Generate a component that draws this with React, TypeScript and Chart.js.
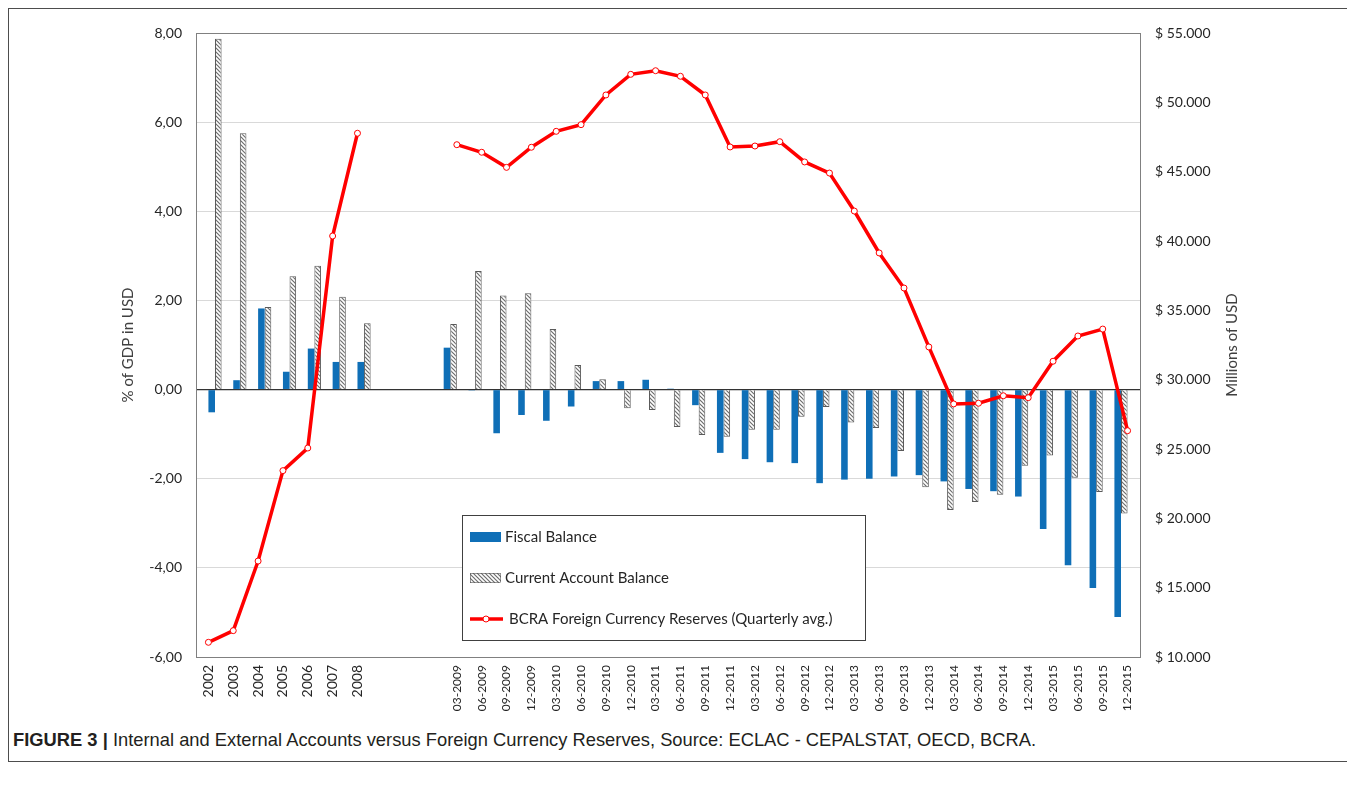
import React, { useEffect, useRef } from 'react';
import { Chart, registerables } from 'chart.js';

Chart.register(...registerables);

const FONT = 'Lato, "Open Sans", sans-serif';

// ---- data ----
const annualYears = ['2002', '2003', '2004', '2005', '2006', '2007', '2008'];
const annualFiscal = [-0.51, 0.21, 1.82, 0.4, 0.92, 0.62, 0.62];
const annualCurrent = [7.87, 5.75, 1.85, 2.54, 2.78, 2.08, 1.49];
const annualReserves = [11060, 11900, 16920, 23440, 25070, 40360, 47770];

const gapLabels = ['', '', ''];

const quarterLabels = [
  '03-2009', '06-2009', '09-2009', '12-2009',
  '03-2010', '06-2010', '09-2010', '12-2010',
  '03-2011', '06-2011', '09-2011', '12-2011',
  '03-2012', '06-2012', '09-2012', '12-2012',
  '03-2013', '06-2013', '09-2013', '12-2013',
  '03-2014', '06-2014', '09-2014', '12-2014',
  '03-2015', '06-2015', '09-2015', '12-2015',
];
const quarterlyFiscal = [
  0.94, -0.02, -0.98, -0.57,
  -0.7, -0.38, 0.19, 0.19,
  0.22, 0.02, -0.35, -1.42,
  -1.56, -1.63, -1.65, -2.1,
  -2.02, -2.0, -1.95, -1.92,
  -2.06, -2.23, -2.28, -2.4,
  -3.13, -3.94, -4.45, -5.1,
];
const quarterlyCurrent = [
  1.47, 2.66, 2.11, 2.16,
  1.36, 0.55, 0.23, -0.42,
  -0.46, -0.84, -1.02, -1.06,
  -0.9, -0.9, -0.61, -0.39,
  -0.74, -0.86, -1.38, -2.19,
  -2.7, -2.52, -2.36, -1.71,
  -1.48, -1.98, -2.3, -2.78,
];
const quarterlyReserves = [
  46945, 46400, 45310, 46760,
  47910, 48390, 50530, 52020,
  52280, 51880, 50530, 46780,
  46850, 47160, 45700, 44900,
  42160, 39140, 36610, 32360,
  28250, 28300, 28840, 28700,
  31330, 33150, 33650, 26320,
];

const leftTicks = { min: -6, max: 8, step: 2 };
const rightTicks = { min: 10000, max: 55000, step: 5000 };

const BLUE = '#0F6FB7';
const RED = '#FF0000';
const HATCH_LINE = '#6e6e6e';
const HATCH_BORDER = '#5a5a5a';

function makeHatch(ctx: CanvasRenderingContext2D): CanvasPattern | string {
  const s = 4;
  const c = document.createElement('canvas');
  c.width = s;
  c.height = s;
  const g = c.getContext('2d');
  if (!g) return '#999';
  g.fillStyle = '#ffffff';
  g.fillRect(0, 0, s, s);
  g.strokeStyle = HATCH_LINE;
  g.lineWidth = 1.2;
  for (const off of [-s, 0, s]) {
    g.beginPath();
    g.moveTo(off - 1, -1);
    g.lineTo(off + s + 1, s + 1);
    g.stroke();
  }
  return ctx.createPattern(c, 'repeat') || '#999';
}

function fmtLeft(v: number) {
  return v.toFixed(2).replace('.', ',');
}
function fmtRight(v: number) {
  const s = Math.round(v).toString().replace(/\B(?=(\d{3})+(?!\d))/g, '.');
  return '$ ' + s;
}

export default function App() {
  const ref = useRef<HTMLCanvasElement>(null);

  useEffect(() => {
    const canvas = ref.current;
    if (!canvas) return;
    const ctx0 = canvas.getContext('2d') as CanvasRenderingContext2D;
    const hatch = makeHatch(ctx0);

    const nA = annualYears.length;
    const nG = gapLabels.length;
    const nQ = quarterLabels.length;
    const nulls = (n: number) => Array(n).fill(null);
    const labels = [...annualYears, ...gapLabels, ...quarterLabels];

    const qFiscal = [...nulls(nA + nG), ...quarterlyFiscal];
    const qCurrent = [...nulls(nA + nG), ...quarterlyCurrent];
    const aFiscal = [...annualFiscal, ...nulls(nG + nQ)];
    const aCurrent = [...annualCurrent, ...nulls(nG + nQ)];
    const reserves = [...annualReserves, ...nulls(nG), ...quarterlyReserves];

    const decor = {
      id: 'decor',
      afterDraw(chart: any) {
        const { ctx, chartArea: a } = chart;
        ctx.save();
        // plot frame
        ctx.strokeStyle = '#808080';
        ctx.lineWidth = 1;
        ctx.strokeRect(Math.round(a.left) + 0.5, Math.round(a.top) + 0.5, Math.round(a.right - a.left), Math.round(a.bottom - a.top));
        // axis titles
        const cy = (a.top + a.bottom) / 2;
        ctx.fillStyle = '#404040';
        ctx.font = `15px ${FONT}`;
        ctx.textAlign = 'center';
        ctx.textBaseline = 'middle';
        ctx.save();
        ctx.translate(119, cy);
        ctx.rotate(-Math.PI / 2);
        ctx.fillText('% of GDP in USD', 0, 0);
        ctx.restore();
        ctx.save();
        ctx.translate(1223, cy);
        ctx.rotate(-Math.PI / 2);
        ctx.fillText('Millions of USD', 0, 0);
        ctx.restore();

        // legend
        const bx = 453, by = 506, bw = 403, bh = 125;
        ctx.fillStyle = '#ffffff';
        ctx.fillRect(bx, by, bw, bh);
        ctx.strokeStyle = '#404040';
        ctx.strokeRect(bx + 0.5, by + 0.5, bw, bh);
        ctx.textAlign = 'left';
        ctx.fillStyle = '#262626';
        ctx.font = `15px ${FONT}`;
        // fiscal
        ctx.fillStyle = BLUE;
        ctx.fillRect(461, 523, 31, 10);
        ctx.fillStyle = '#262626';
        ctx.fillText('Fiscal Balance', 496, 528);
        // current account
        ctx.fillStyle = hatch;
        ctx.fillRect(461, 564, 31, 10);
        ctx.strokeStyle = HATCH_BORDER;
        ctx.lineWidth = 0.6;
        ctx.strokeRect(461.5, 564.5, 30, 9);
        ctx.fillStyle = '#262626';
        ctx.fillText('Current Account Balance', 496, 569);
        // reserves
        ctx.strokeStyle = RED;
        ctx.lineWidth = 3.5;
        ctx.beginPath();
        ctx.moveTo(461, 610);
        ctx.lineTo(494, 610);
        ctx.stroke();
        ctx.fillStyle = '#ffffff';
        ctx.lineWidth = 1;
        ctx.beginPath();
        ctx.arc(477, 610, 3, 0, Math.PI * 2);
        ctx.fill();
        ctx.stroke();
        ctx.fillStyle = '#262626';
        ctx.fillText('BCRA Foreign Currency Reserves (Quarterly avg.)', 500, 610);
        ctx.restore();
      },
    };

    const barCommon = {
      type: 'bar' as const,
      yAxisID: 'y',
      categoryPercentage: 1.06,
      barPercentage: 1,
      order: 1,
    };

    const chart = new Chart(canvas, {
      type: 'bar',
      data: {
        labels,
        datasets: [
          {
            ...barCommon,
            label: 'Fiscal Balance',
            data: qFiscal,
            backgroundColor: BLUE,
            borderWidth: 0,
          },
          {
            ...barCommon,
            label: 'Current Account Balance',
            data: qCurrent,
            backgroundColor: hatch,
            borderColor: HATCH_BORDER,
            borderWidth: 1,
          },
          {
            ...barCommon,
            label: 'Fiscal Balance (annual)',
            data: aFiscal,
            backgroundColor: BLUE,
            borderWidth: 0,
          },
          {
            ...barCommon,
            label: 'Current Account Balance (annual)',
            data: aCurrent,
            backgroundColor: hatch,
            borderColor: HATCH_BORDER,
            borderWidth: 1,
          },
          {
            type: 'line' as const,
            label: 'BCRA Foreign Currency Reserves (Quarterly avg.)',
            data: reserves,
            yAxisID: 'y1',
            borderColor: RED,
            borderWidth: 3.5,
            pointRadius: 3,
            pointBackgroundColor: '#ffffff',
            pointBorderColor: RED,
            pointBorderWidth: 1,
            spanGaps: false,
            tension: 0,
            order: 0,
          } as any,
        ],
      },
      options: {
        animation: false,
        responsive: true,
        maintainAspectRatio: false,
        layout: { padding: { left: 0, right: 0, top: 24, bottom: 0 } },
        plugins: {
          legend: { display: false },
          tooltip: { enabled: false },
        },
        scales: {
          x: {
            grid: { display: false, drawTicks: false },
            border: { display: false },
            ticks: {
              autoSkip: false,
              minRotation: 90,
              maxRotation: 90,
              padding: 8,
              color: '#262626',
              font: (c: any) => ({ family: FONT, size: c.index < 7 ? 14 : 12 }),
            },
            afterFit(scale: any) {
              scale.height = 64;
            },
          },
          y: {
            position: 'left',
            min: leftTicks.min,
            max: leftTicks.max,
            ticks: {
              stepSize: leftTicks.step,
              padding: 14,
              color: '#262626',
              font: { family: FONT, size: 14 },
              callback: (v: any) => fmtLeft(Number(v)),
            },
            grid: {
              drawTicks: false,
              color: (c: any) => (c.tick && c.tick.value === 0 ? '#333333' : '#d9d9d9'),
              lineWidth: (c: any) => (c.tick && c.tick.value === 0 ? 1.2 : 1),
            },
            border: { display: false },
            afterFit(scale: any) {
              scale.width = 187;
            },
          },
          y1: {
            position: 'right',
            min: rightTicks.min,
            max: rightTicks.max,
            ticks: {
              stepSize: rightTicks.step,
              padding: 15,
              color: '#262626',
              font: { family: FONT, size: 14 },
              callback: (v: any) => fmtRight(Number(v)),
            },
            grid: { display: false, drawTicks: false },
            border: { display: false },
            afterFit(scale: any) {
              scale.width = 212;
            },
          },
        },
      },
      plugins: [decor],
    } as any);

    return () => chart.destroy();
  }, []);

  return (
    <div
      style={{
        position: 'relative',
        width: 1343,
        height: 752,
        border: '1px solid #4d4d4d',
        background: '#fff',
      }}
    >
      <div style={{ position: 'absolute', left: 0, top: 0, width: 1343, height: 712 }}>
        <canvas ref={ref} />
      </div>
      <div
        style={{
          position: 'absolute',
          left: 4,
          top: 720,
          fontFamily: '"Liberation Sans Narrow", "Arial Narrow", "Liberation Sans", Arial, sans-serif',
          fontSize: 19,
          color: '#231f20',
          whiteSpace: 'nowrap',
          transform: 'scaleX(0.965)',
          transformOrigin: 'left center',
        }}
      >
        <b>FIGURE 3 |</b> Internal and External Accounts versus Foreign Currency Reserves, Source: ECLAC - CEPALSTAT, OECD, BCRA.
      </div>
    </div>
  );
}
